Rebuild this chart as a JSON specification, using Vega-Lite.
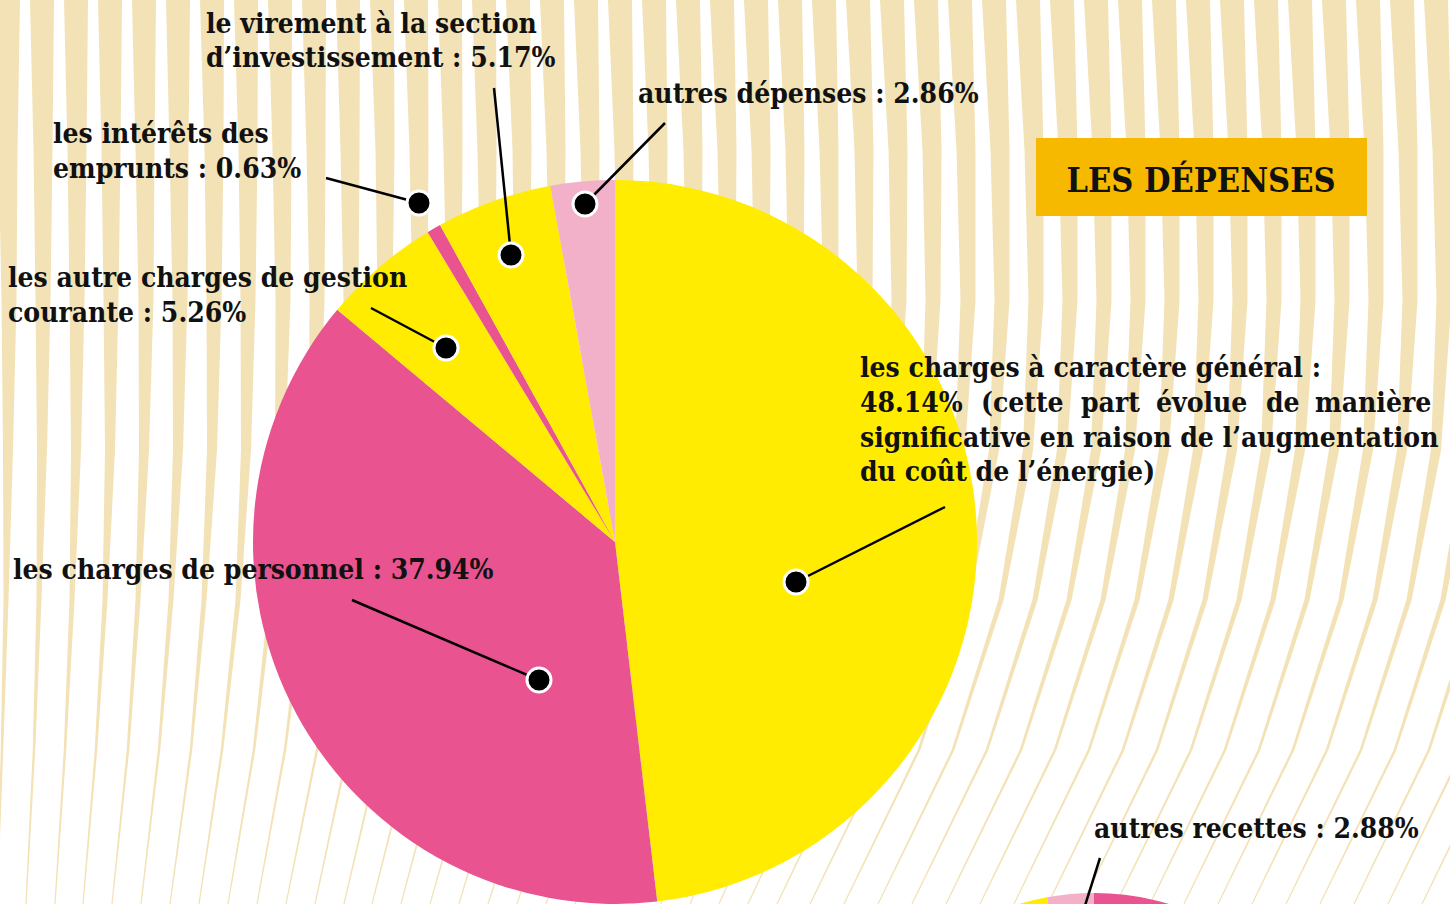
{
"$schema":"https://vega.github.io/schema/vega-lite/v6.json",
"width":1450,"height":904,"autosize":"none","padding":0,"background":"#ffffff",
"config":{"view":{"stroke":null}},
"datasets":{
"depenses":[
{"poste":"les charges à caractère général","part":48.14,"rang":1},
{"poste":"les charges de personnel","part":37.94,"rang":2},
{"poste":"les autre charges de gestion courante","part":5.26,"rang":3},
{"poste":"les intérêts des emprunts","part":0.63,"rang":4},
{"poste":"le virement à la section d’investissement","part":5.17,"rang":5},
{"poste":"autres dépenses","part":2.86,"rang":6}],
"recettes":[
{"poste":"recettes A","part":60,"rang":1},
{"poste":"recettes B","part":37.12,"rang":2},
{"poste":"autres recettes","part":2.88,"rang":3}],
"traits":[
{"x1":796,"y1":582,"x2":945,"y2":507},
{"x1":539,"y1":680,"x2":352,"y2":600},
{"x1":446,"y1":348,"x2":371,"y2":308},
{"x1":419,"y1":203,"x2":326,"y2":178},
{"x1":511,"y1":255,"x2":494,"y2":88},
{"x1":585,"y1":204,"x2":665,"y2":123},
{"x1":1100,"y1":858,"x2":1083,"y2":912}],
"points":[
{"x":796,"y":582},{"x":539,"y":680},{"x":446,"y":348},{"x":419,"y":203},{"x":511,"y":255},{"x":585,"y":204}],
"cadre":[{"x1":1036,"x2":1367,"y1":138,"y2":216}],
"titre":[{"t":"LES DÉPENSES","x":1201,"y":192}],
"textes":[
{"t":"le virement à la section","x":206,"y":33},
{"t":"d’investissement : 5.17%","x":206,"y":67},
{"t":"autres dépenses : 2.86%","x":638,"y":103},
{"t":"les intérêts des","x":53,"y":143},
{"t":"emprunts : 0.63%","x":53,"y":178},
{"t":"les autre charges de gestion","x":8,"y":287},
{"t":"courante : 5.26%","x":8,"y":322},
{"t":"les charges de personnel : 37.94%","x":13,"y":579},
{"t":"les charges à caractère général :","x":860,"y":377},
{"t":"48.14%","x":860,"y":412},
{"t":"(cette","x":981,"y":412},
{"t":"part","x":1081,"y":412},
{"t":"évolue","x":1156,"y":412},
{"t":"de","x":1266,"y":412},
{"t":"manière","x":1315,"y":412},
{"t":"significative en raison de l’augmentation","x":860,"y":447},
{"t":"du coût de l’énergie)","x":860,"y":481},
{"t":"autres recettes : 2.88%","x":1094,"y":838}],
"stripes":[
{"s":1,"y":0,"x":8},{"s":1,"y":150,"x":8},{"s":1,"y":300,"x":9},{"s":1,"y":450,"x":8},{"s":1,"y":600,"x":6},{"s":1,"y":750,"x":2},{"s":1,"y":904,"x":-3},
{"s":2,"y":0,"x":42},{"s":2,"y":150,"x":43},{"s":2,"y":300,"x":43},{"s":2,"y":450,"x":42},{"s":2,"y":600,"x":39},{"s":2,"y":750,"x":34},{"s":2,"y":904,"x":26},
{"s":3,"y":0,"x":76},{"s":3,"y":150,"x":77},{"s":3,"y":300,"x":77},{"s":3,"y":450,"x":76},{"s":3,"y":600,"x":72},{"s":3,"y":750,"x":65},{"s":3,"y":904,"x":55},
{"s":4,"y":0,"x":110},{"s":4,"y":150,"x":111},{"s":4,"y":300,"x":111},{"s":4,"y":450,"x":110},{"s":4,"y":600,"x":105},{"s":4,"y":750,"x":96},{"s":4,"y":904,"x":83},
{"s":5,"y":0,"x":144},{"s":5,"y":150,"x":145},{"s":5,"y":300,"x":146},{"s":5,"y":450,"x":144},{"s":5,"y":600,"x":138},{"s":5,"y":750,"x":128},{"s":5,"y":904,"x":112},
{"s":6,"y":0,"x":178},{"s":6,"y":150,"x":179},{"s":6,"y":300,"x":180},{"s":6,"y":450,"x":178},{"s":6,"y":600,"x":171},{"s":6,"y":750,"x":159},{"s":6,"y":904,"x":141},
{"s":7,"y":0,"x":212},{"s":7,"y":150,"x":214},{"s":7,"y":300,"x":214},{"s":7,"y":450,"x":212},{"s":7,"y":600,"x":204},{"s":7,"y":750,"x":191},{"s":7,"y":904,"x":170},
{"s":8,"y":0,"x":246},{"s":8,"y":150,"x":248},{"s":8,"y":300,"x":248},{"s":8,"y":450,"x":246},{"s":8,"y":600,"x":238},{"s":8,"y":750,"x":222},{"s":8,"y":904,"x":199},
{"s":9,"y":0,"x":280},{"s":9,"y":150,"x":282},{"s":9,"y":300,"x":283},{"s":9,"y":450,"x":280},{"s":9,"y":600,"x":271},{"s":9,"y":750,"x":254},{"s":9,"y":904,"x":228},
{"s":10,"y":0,"x":314},{"s":10,"y":150,"x":316},{"s":10,"y":300,"x":317},{"s":10,"y":450,"x":314},{"s":10,"y":600,"x":304},{"s":10,"y":750,"x":285},{"s":10,"y":904,"x":257},
{"s":11,"y":0,"x":348},{"s":11,"y":150,"x":350},{"s":11,"y":300,"x":351},{"s":11,"y":450,"x":348},{"s":11,"y":600,"x":337},{"s":11,"y":750,"x":317},{"s":11,"y":904,"x":286},
{"s":12,"y":0,"x":382},{"s":12,"y":150,"x":385},{"s":12,"y":300,"x":385},{"s":12,"y":450,"x":382},{"s":12,"y":600,"x":370},{"s":12,"y":750,"x":348},{"s":12,"y":904,"x":315},
{"s":13,"y":0,"x":416},{"s":13,"y":150,"x":419},{"s":13,"y":300,"x":420},{"s":13,"y":450,"x":416},{"s":13,"y":600,"x":403},{"s":13,"y":750,"x":380},{"s":13,"y":904,"x":344},
{"s":14,"y":0,"x":450},{"s":14,"y":150,"x":453},{"s":14,"y":300,"x":454},{"s":14,"y":450,"x":450},{"s":14,"y":600,"x":436},{"s":14,"y":750,"x":411},{"s":14,"y":904,"x":372},
{"s":15,"y":0,"x":484},{"s":15,"y":150,"x":487},{"s":15,"y":300,"x":488},{"s":15,"y":450,"x":484},{"s":15,"y":600,"x":469},{"s":15,"y":750,"x":442},{"s":15,"y":904,"x":401},
{"s":16,"y":0,"x":518},{"s":16,"y":150,"x":522},{"s":16,"y":300,"x":522},{"s":16,"y":450,"x":518},{"s":16,"y":600,"x":502},{"s":16,"y":750,"x":474},{"s":16,"y":904,"x":430},
{"s":17,"y":0,"x":552},{"s":17,"y":150,"x":556},{"s":17,"y":300,"x":557},{"s":17,"y":450,"x":552},{"s":17,"y":600,"x":535},{"s":17,"y":750,"x":505},{"s":17,"y":904,"x":459},
{"s":18,"y":0,"x":586},{"s":18,"y":150,"x":590},{"s":18,"y":300,"x":591},{"s":18,"y":450,"x":586},{"s":18,"y":600,"x":568},{"s":18,"y":750,"x":537},{"s":18,"y":904,"x":488},
{"s":19,"y":0,"x":620},{"s":19,"y":150,"x":624},{"s":19,"y":300,"x":625},{"s":19,"y":450,"x":620},{"s":19,"y":600,"x":601},{"s":19,"y":750,"x":568},{"s":19,"y":904,"x":517},
{"s":20,"y":0,"x":654},{"s":20,"y":150,"x":658},{"s":20,"y":300,"x":659},{"s":20,"y":450,"x":654},{"s":20,"y":600,"x":635},{"s":20,"y":750,"x":600},{"s":20,"y":904,"x":546},
{"s":21,"y":0,"x":688},{"s":21,"y":150,"x":693},{"s":21,"y":300,"x":694},{"s":21,"y":450,"x":688},{"s":21,"y":600,"x":668},{"s":21,"y":750,"x":631},{"s":21,"y":904,"x":575},
{"s":22,"y":0,"x":722},{"s":22,"y":150,"x":727},{"s":22,"y":300,"x":728},{"s":22,"y":450,"x":722},{"s":22,"y":600,"x":701},{"s":22,"y":750,"x":663},{"s":22,"y":904,"x":604},
{"s":23,"y":0,"x":756},{"s":23,"y":150,"x":761},{"s":23,"y":300,"x":762},{"s":23,"y":450,"x":756},{"s":23,"y":600,"x":734},{"s":23,"y":750,"x":694},{"s":23,"y":904,"x":633},
{"s":24,"y":0,"x":790},{"s":24,"y":150,"x":795},{"s":24,"y":300,"x":796},{"s":24,"y":450,"x":790},{"s":24,"y":600,"x":767},{"s":24,"y":750,"x":725},{"s":24,"y":904,"x":661},
{"s":25,"y":0,"x":824},{"s":25,"y":150,"x":829},{"s":25,"y":300,"x":831},{"s":25,"y":450,"x":824},{"s":25,"y":600,"x":800},{"s":25,"y":750,"x":757},{"s":25,"y":904,"x":690},
{"s":26,"y":0,"x":858},{"s":26,"y":150,"x":864},{"s":26,"y":300,"x":865},{"s":26,"y":450,"x":858},{"s":26,"y":600,"x":833},{"s":26,"y":750,"x":788},{"s":26,"y":904,"x":719},
{"s":27,"y":0,"x":892},{"s":27,"y":150,"x":898},{"s":27,"y":300,"x":899},{"s":27,"y":450,"x":892},{"s":27,"y":600,"x":866},{"s":27,"y":750,"x":820},{"s":27,"y":904,"x":748},
{"s":28,"y":0,"x":926},{"s":28,"y":150,"x":932},{"s":28,"y":300,"x":933},{"s":28,"y":450,"x":926},{"s":28,"y":600,"x":899},{"s":28,"y":750,"x":851},{"s":28,"y":904,"x":777},
{"s":29,"y":0,"x":960},{"s":29,"y":150,"x":966},{"s":29,"y":300,"x":968},{"s":29,"y":450,"x":960},{"s":29,"y":600,"x":933},{"s":29,"y":750,"x":885},{"s":29,"y":904,"x":810},
{"s":30,"y":0,"x":994},{"s":30,"y":150,"x":1000},{"s":30,"y":300,"x":1002},{"s":30,"y":450,"x":994},{"s":30,"y":600,"x":967},{"s":30,"y":750,"x":919},{"s":30,"y":904,"x":844},
{"s":31,"y":0,"x":1028},{"s":31,"y":150,"x":1034},{"s":31,"y":300,"x":1036},{"s":31,"y":450,"x":1028},{"s":31,"y":600,"x":1001},{"s":31,"y":750,"x":953},{"s":31,"y":904,"x":878},
{"s":32,"y":0,"x":1062},{"s":32,"y":150,"x":1068},{"s":32,"y":300,"x":1070},{"s":32,"y":450,"x":1062},{"s":32,"y":600,"x":1035},{"s":32,"y":750,"x":987},{"s":32,"y":904,"x":912},
{"s":33,"y":0,"x":1096},{"s":33,"y":150,"x":1102},{"s":33,"y":300,"x":1104},{"s":33,"y":450,"x":1096},{"s":33,"y":600,"x":1069},{"s":33,"y":750,"x":1021},{"s":33,"y":904,"x":946},
{"s":34,"y":0,"x":1130},{"s":34,"y":150,"x":1136},{"s":34,"y":300,"x":1138},{"s":34,"y":450,"x":1130},{"s":34,"y":600,"x":1103},{"s":34,"y":750,"x":1055},{"s":34,"y":904,"x":980},
{"s":35,"y":0,"x":1164},{"s":35,"y":150,"x":1170},{"s":35,"y":300,"x":1172},{"s":35,"y":450,"x":1164},{"s":35,"y":600,"x":1137},{"s":35,"y":750,"x":1089},{"s":35,"y":904,"x":1014},
{"s":36,"y":0,"x":1198},{"s":36,"y":150,"x":1204},{"s":36,"y":300,"x":1206},{"s":36,"y":450,"x":1198},{"s":36,"y":600,"x":1171},{"s":36,"y":750,"x":1123},{"s":36,"y":904,"x":1048},
{"s":37,"y":0,"x":1232},{"s":37,"y":150,"x":1238},{"s":37,"y":300,"x":1240},{"s":37,"y":450,"x":1232},{"s":37,"y":600,"x":1205},{"s":37,"y":750,"x":1157},{"s":37,"y":904,"x":1082},
{"s":38,"y":0,"x":1266},{"s":38,"y":150,"x":1272},{"s":38,"y":300,"x":1274},{"s":38,"y":450,"x":1266},{"s":38,"y":600,"x":1239},{"s":38,"y":750,"x":1191},{"s":38,"y":904,"x":1116},
{"s":39,"y":0,"x":1300},{"s":39,"y":150,"x":1306},{"s":39,"y":300,"x":1308},{"s":39,"y":450,"x":1300},{"s":39,"y":600,"x":1273},{"s":39,"y":750,"x":1225},{"s":39,"y":904,"x":1150},
{"s":40,"y":0,"x":1334},{"s":40,"y":150,"x":1340},{"s":40,"y":300,"x":1342},{"s":40,"y":450,"x":1334},{"s":40,"y":600,"x":1307},{"s":40,"y":750,"x":1259},{"s":40,"y":904,"x":1184},
{"s":41,"y":0,"x":1368},{"s":41,"y":150,"x":1374},{"s":41,"y":300,"x":1376},{"s":41,"y":450,"x":1368},{"s":41,"y":600,"x":1341},{"s":41,"y":750,"x":1293},{"s":41,"y":904,"x":1218},
{"s":42,"y":0,"x":1402},{"s":42,"y":150,"x":1408},{"s":42,"y":300,"x":1410},{"s":42,"y":450,"x":1402},{"s":42,"y":600,"x":1375},{"s":42,"y":750,"x":1327},{"s":42,"y":904,"x":1252},
{"s":43,"y":0,"x":1436},{"s":43,"y":150,"x":1442},{"s":43,"y":300,"x":1444},{"s":43,"y":450,"x":1436},{"s":43,"y":600,"x":1409},{"s":43,"y":750,"x":1361},{"s":43,"y":904,"x":1286},
{"s":44,"y":0,"x":1470},{"s":44,"y":150,"x":1476},{"s":44,"y":300,"x":1478},{"s":44,"y":450,"x":1470},{"s":44,"y":600,"x":1443},{"s":44,"y":750,"x":1395},{"s":44,"y":904,"x":1320},
{"s":45,"y":0,"x":1504},{"s":45,"y":150,"x":1510},{"s":45,"y":300,"x":1512},{"s":45,"y":450,"x":1504},{"s":45,"y":600,"x":1477},{"s":45,"y":750,"x":1429},{"s":45,"y":904,"x":1354},
{"s":46,"y":0,"x":1538},{"s":46,"y":150,"x":1544},{"s":46,"y":300,"x":1546},{"s":46,"y":450,"x":1538},{"s":46,"y":600,"x":1511},{"s":46,"y":750,"x":1463},{"s":46,"y":904,"x":1388},
{"s":47,"y":0,"x":1572},{"s":47,"y":150,"x":1578},{"s":47,"y":300,"x":1580},{"s":47,"y":450,"x":1572},{"s":47,"y":600,"x":1545},{"s":47,"y":750,"x":1497},{"s":47,"y":904,"x":1422},
{"s":48,"y":0,"x":1606},{"s":48,"y":150,"x":1612},{"s":48,"y":300,"x":1614},{"s":48,"y":450,"x":1606},{"s":48,"y":600,"x":1579},{"s":48,"y":750,"x":1531},{"s":48,"y":904,"x":1456}]
},
"layer":[
{"data":{"name":"stripes"},"mark":{"type":"trail","color":"#F3E2B6"},
 "encoding":{
  "x":{"field":"x","type":"quantitative","scale":{"domain":[0,1450],"nice":false,"zero":false},"axis":null},
  "y":{"field":"y","type":"quantitative","scale":{"domain":[0,904],"nice":false,"zero":false,"reverse":true},"axis":null},
  "detail":{"field":"s","type":"nominal"},
  "order":{"field":"y","type":"quantitative"},
  "size":{"field":"y","type":"quantitative","scale":{"domain":[0,150,300,450,600,750,904],"range":[24,19,15,10,5,2.5,1.2]},"legend":null}}},
{"data":{"name":"depenses"},"mark":{"type":"arc","outerRadius":362},
 "encoding":{
  "x":{"datum":615,"type":"quantitative","scale":{"domain":[0,1450],"nice":false,"zero":false},"axis":null},
  "y":{"datum":542,"type":"quantitative","scale":{"domain":[0,904],"nice":false,"zero":false,"reverse":true},"axis":null},
  "theta":{"field":"part","type":"quantitative","stack":true},
  "order":{"field":"rang","type":"quantitative"},
  "color":{"field":"poste","type":"nominal","legend":null,"scale":{"domain":["les charges à caractère général","les charges de personnel","les autre charges de gestion courante","les intérêts des emprunts","le virement à la section d’investissement","autres dépenses","recettes A","recettes B","autres recettes"],"range":["#FFEC00","#E85390","#FFEC00","#E85390","#FFEC00","#F3B1C9","#E85390","#FFEC00","#F3B1C9"]}}}},
{"data":{"name":"recettes"},"mark":{"type":"arc","outerRadius":261},
 "encoding":{
  "x":{"datum":1094,"type":"quantitative","scale":{"domain":[0,1450],"nice":false,"zero":false},"axis":null},
  "y":{"datum":1154,"type":"quantitative","scale":{"domain":[0,904],"nice":false,"zero":false,"reverse":true},"axis":null},
  "theta":{"field":"part","type":"quantitative","stack":true},
  "order":{"field":"rang","type":"quantitative"},
  "color":{"field":"poste","type":"nominal","legend":null}}},
{"data":{"name":"traits"},"mark":{"type":"rule","color":"#000000","strokeWidth":2.5},
 "encoding":{
  "x":{"field":"x1","type":"quantitative","scale":{"domain":[0,1450],"nice":false,"zero":false},"axis":null},
  "y":{"field":"y1","type":"quantitative","scale":{"domain":[0,904],"nice":false,"zero":false,"reverse":true},"axis":null},
  "x2":{"field":"x2"},"y2":{"field":"y2"}}},
{"data":{"name":"points"},"mark":{"type":"point","shape":"circle","filled":true,"fill":"#000000","stroke":"#ffffff","strokeWidth":3,"size":576,"opacity":1},
 "encoding":{
  "x":{"field":"x","type":"quantitative","scale":{"domain":[0,1450],"nice":false,"zero":false},"axis":null},
  "y":{"field":"y","type":"quantitative","scale":{"domain":[0,904],"nice":false,"zero":false,"reverse":true},"axis":null}}},
{"data":{"name":"cadre"},"mark":{"type":"rect","color":"#F7B800"},
 "encoding":{
  "x":{"field":"x1","type":"quantitative","scale":{"domain":[0,1450],"nice":false,"zero":false},"axis":null},
  "y":{"field":"y1","type":"quantitative","scale":{"domain":[0,904],"nice":false,"zero":false,"reverse":true},"axis":null},
  "x2":{"field":"x2"},"y2":{"field":"y2"}}},
{"data":{"name":"titre"},"mark":{"type":"text","font":"DejaVu Serif Condensed, DejaVu Serif","fontSize":34,"fontWeight":"bold","align":"center","baseline":"alphabetic","color":"#111111"},
 "encoding":{
  "x":{"field":"x","type":"quantitative","scale":{"domain":[0,1450],"nice":false,"zero":false},"axis":null},
  "y":{"field":"y","type":"quantitative","scale":{"domain":[0,904],"nice":false,"zero":false,"reverse":true},"axis":null},
  "text":{"field":"t"}}},
{"data":{"name":"textes"},"mark":{"type":"text","font":"DejaVu Serif Condensed, DejaVu Serif","fontSize":28,"fontWeight":"bold","align":"left","baseline":"alphabetic","color":"#111111"},
 "encoding":{
  "x":{"field":"x","type":"quantitative","scale":{"domain":[0,1450],"nice":false,"zero":false},"axis":null},
  "y":{"field":"y","type":"quantitative","scale":{"domain":[0,904],"nice":false,"zero":false,"reverse":true},"axis":null},
  "text":{"field":"t"}}}
]
}
